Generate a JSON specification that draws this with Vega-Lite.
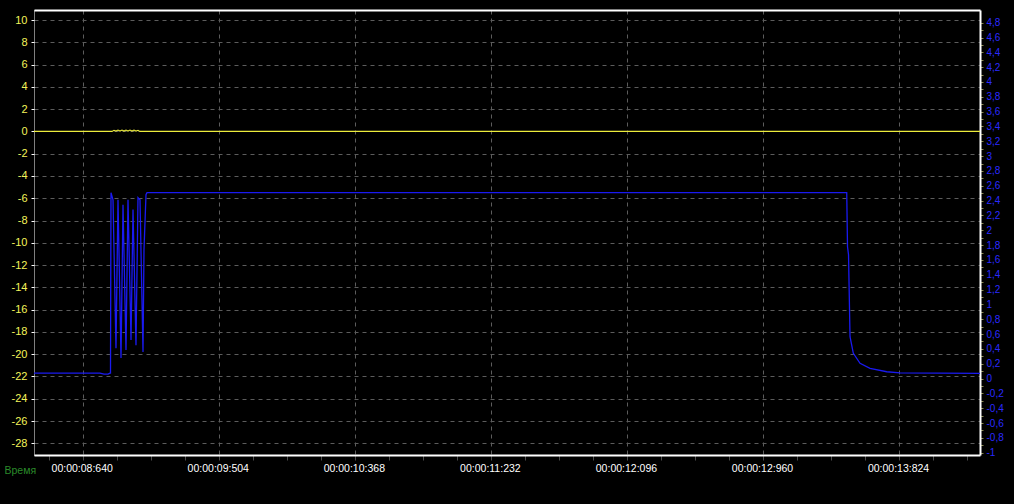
{
  "$schema": "https://vega.github.io/schema/vega-lite/v6.json",
  "autosize": {"type": "none"},
  "padding": {"left": 34, "top": 10, "right": 34, "bottom": 49},
  "width": 946,
  "height": 445,
  "background": "#000000",
  "config": {
    "view": {"stroke": null},
    "font": "Liberation Sans"
  },
  "datasets": {
    "yellow": [
      {"t": 8.3307, "v": 0},
      {"t": 8.826, "v": 0},
      {"t": 8.8387, "v": 0.1},
      {"t": 8.8514, "v": 0.03},
      {"t": 8.8641, "v": 0.12},
      {"t": 8.8768, "v": 0.03},
      {"t": 8.8895, "v": 0.12},
      {"t": 8.9022, "v": 0.03},
      {"t": 8.9149, "v": 0.12},
      {"t": 8.9276, "v": 0.03},
      {"t": 8.9403, "v": 0.12},
      {"t": 8.953, "v": 0.03},
      {"t": 8.9657, "v": 0.12},
      {"t": 8.9784, "v": 0.03},
      {"t": 8.9911, "v": 0.1},
      {"t": 9.0038, "v": 0},
      {"t": 14.338, "v": 0}
    ],
    "blue": [
      {"t": 8.3307, "v": 0.074},
      {"t": 8.7498, "v": 0.074},
      {"t": 8.7752, "v": 0.06},
      {"t": 8.8006, "v": 0.06},
      {"t": 8.8133, "v": 0.074},
      {"t": 8.8165, "v": 0.074},
      {"t": 8.8197, "v": 2.507},
      {"t": 8.8324, "v": 2.41},
      {"t": 8.8514, "v": 0.41},
      {"t": 8.8641, "v": 2.41},
      {"t": 8.8832, "v": 0.277},
      {"t": 8.8959, "v": 2.345},
      {"t": 8.9149, "v": 0.385},
      {"t": 8.9276, "v": 2.41},
      {"t": 8.9467, "v": 0.52},
      {"t": 8.9594, "v": 2.28},
      {"t": 8.9784, "v": 0.45},
      {"t": 8.9911, "v": 2.44},
      {"t": 9.0038, "v": 2.41},
      {"t": 9.0229, "v": 0.358},
      {"t": 9.0292, "v": 1.74},
      {"t": 9.0419, "v": 2.48},
      {"t": 9.0483, "v": 2.507},
      {"t": 13.4917, "v": 2.507},
      {"t": 13.4967, "v": 1.777},
      {"t": 13.5031, "v": 1.67},
      {"t": 13.5126, "v": 0.565},
      {"t": 13.5336, "v": 0.34},
      {"t": 13.5762, "v": 0.205},
      {"t": 13.6397, "v": 0.138},
      {"t": 13.7457, "v": 0.092},
      {"t": 13.8301, "v": 0.078},
      {"t": 14.338, "v": 0.07}
    ]
  },
  "layer": [
    {
      "data": {"name": "yellow"},
      "mark": {"type": "line", "color": "#ecec3c", "strokeWidth": 1.2, "clip": true},
      "encoding": {
        "x": {
          "field": "t", "type": "quantitative",
          "scale": {"domain": [8.3307, 14.338], "nice": false, "zero": false},
          "axis": {
            "orient": "bottom",
            "values": [8.424, 8.64, 8.856, 9.072, 9.288, 9.504, 9.72, 9.936, 10.152, 10.368, 10.584, 10.8, 11.016, 11.232, 11.448, 11.664, 11.88, 12.096, 12.312, 12.528, 12.744, 12.96, 13.176, 13.392, 13.608, 13.824, 14.04, 14.256],
            "labelExpr": "abs(round((datum.value-8.64)/0.216)) % 4 == 0 ? '00:00:' + format(floor(datum.value), '02d') + ':' + format(round(datum.value*1000) % 1000, '03d') : ''",
            "labelColor": "#ffffff",
            "labelFontSize": 10.5,
            "labelPadding": 3,
            "labelOffset": -1,
            "labelOverlap": false,
            "labelFlush": false,
            "labelBound": false,
            "tickColor": "#4a4a4a",
            "tickSize": 5,
            "domain": true,
            "domainColor": "#ffffff",
            "domainWidth": 2,
            "grid": true,
            "gridColor": "#5c5c5c",
            "gridDash": [4, 4],
            "gridWidth": 1,
            "gridOpacity": {"condition": {"test": "abs(round((datum.value-8.64)/0.216)) % 4 == 0", "value": 1}, "value": 0},
            "title": "Время",
            "titleColor": "#2a8a2a",
            "titleFontSize": 10.5,
            "titleFontWeight": "normal",
            "titleAnchor": "start",
            "titleAlign": "left",
            "titleBaseline": "middle",
            "titleX": -30,
            "titleY": 15
          }
        },
        "y": {
          "field": "v", "type": "quantitative",
          "scale": {"domain": [-29.05, 10.9], "nice": false, "zero": false},
          "axis": {
            "orient": "left",
            "values": [-28, -26, -24, -22, -20, -18, -16, -14, -12, -10, -8, -6, -4, -2, 0, 2, 4, 6, 8, 10],
            "labelExpr": "toString(datum.value)",
            "labelColor": "#f4f45a",
            "labelFontSize": 11,
            "labelPadding": 4,
            "labelOverlap": false,
            "labelBound": false,
            "labelFlush": false,
            "tickColor": "#ffffff",
            "tickSize": 3,
            "domain": true,
            "domainColor": "#ffffff",
            "domainDash": [1, 1],
            "domainWidth": 1,
            "grid": true,
            "gridColor": "#5c5c5c",
            "gridDash": [4, 4],
            "gridWidth": 1,
            "title": null
          }
        }
      }
    },
    {
      "data": {"name": "blue"},
      "mark": {"type": "line", "color": "#1a1af0", "strokeWidth": 1.3, "clip": true},
      "encoding": {
        "x": {
          "field": "t", "type": "quantitative",
          "axis": {
            "orient": "top",
            "labels": false,
            "ticks": false,
            "grid": false,
            "domain": true,
            "domainColor": "#ffffff",
            "domainWidth": 2,
            "title": null
          }
        },
        "y": {
          "field": "v", "type": "quantitative",
          "scale": {"domain": [-1.031, 4.971], "nice": false, "zero": false},
          "axis": {
            "orient": "right",
            "values": [-1, -0.9, -0.8, -0.7, -0.6, -0.5, -0.4, -0.3, -0.2, -0.1, 0, 0.1, 0.2, 0.3, 0.4, 0.5, 0.6, 0.7, 0.8, 0.9, 1, 1.1, 1.2, 1.3, 1.4, 1.5, 1.6, 1.7, 1.8, 1.9, 2, 2.1, 2.2, 2.3, 2.4, 2.5, 2.6, 2.7, 2.8, 2.9, 3, 3.1, 3.2, 3.3, 3.4, 3.5, 3.6, 3.7, 3.8, 3.9, 4, 4.1, 4.2, 4.3, 4.4, 4.5, 4.6, 4.7, 4.8],
            "labelExpr": "abs(round(datum.value*10)) % 2 == 0 ? replace(toString(round(datum.value*10)/10), '.', ',') : ''",
            "labelColor": "#2a2aff",
            "labelFontSize": 10,
            "labelPadding": 3,
            "labelOverlap": false,
            "labelBound": false,
            "labelFlush": false,
            "tickColor": "#8a8a55",
            "tickSize": 3,
            "domain": true,
            "domainColor": "#ffffff",
            "domainWidth": 2,
            "grid": false,
            "title": null
          }
        }
      }
    }
  ],
  "resolve": {"scale": {"y": "independent"}, "axis": {"x": "independent", "y": "independent"}}
}
